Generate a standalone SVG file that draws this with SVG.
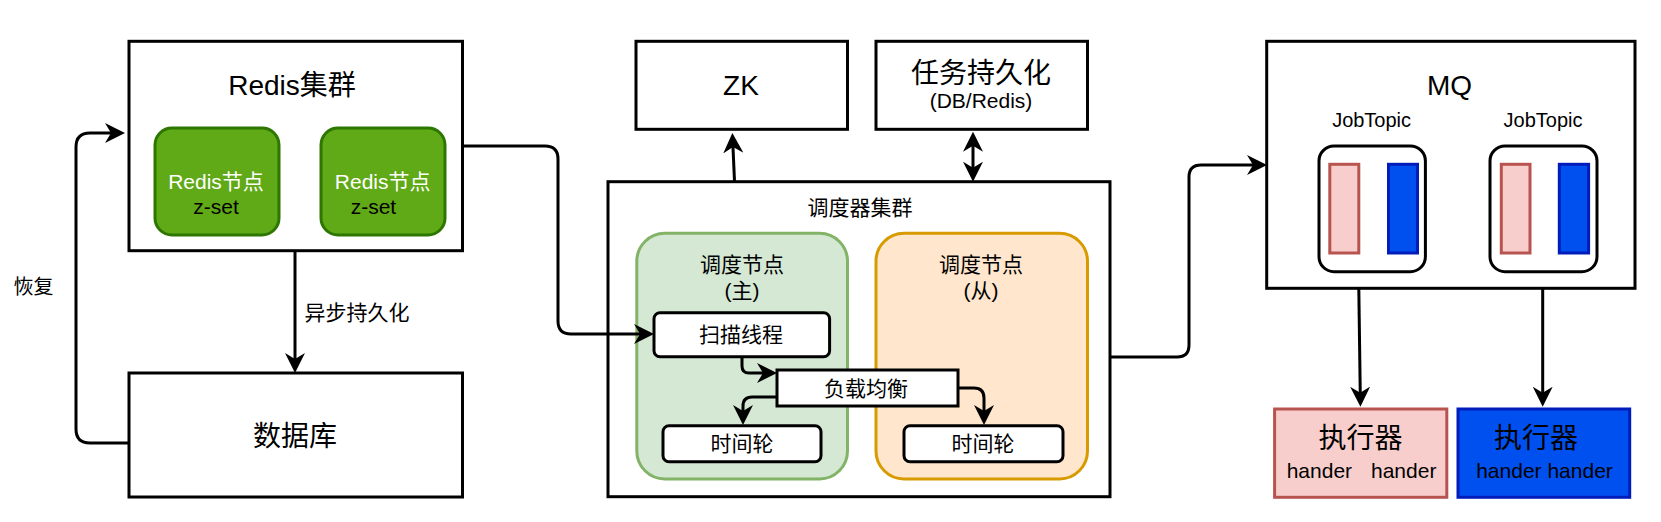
<svg xmlns="http://www.w3.org/2000/svg" width="1661" height="522" viewBox="0 0 1661 522">
<style>
text{font-family:"Liberation Sans","Noto Sans CJK SC",sans-serif;fill:#000;}
.box{fill:#fff;stroke:#000;stroke-width:3;}
.c{text-anchor:middle;}
.f28{font-size:28px;}
.f21{font-size:21px;}
.f20{font-size:20px;}
.edge{fill:none;stroke:#000;stroke-width:3;}
.pink{fill:#f8cecc;stroke:#b85450;stroke-width:3;}
.blue{fill:#0050ef;stroke:#001DBC;stroke-width:3;}
.green{fill:#60a917;stroke:#2D7600;stroke-width:3;}
</style>
<defs>
<marker id="arr" markerUnits="userSpaceOnUse" viewBox="0 0 20 20" markerWidth="20" markerHeight="20" refX="10" refY="10" orient="auto-start-reverse">
<path d="M0,0 L20,10 L0,20 L6,10 Z" fill="#000"/>
</marker>
</defs>

<g id="redis-cluster">
<rect class="box" x="129" y="41.3" width="333.5" height="209.4"/>
<text class="c f28" x="292" y="95">Redis集群</text>
</g>
<g id="redis-node-1">
<rect class="green" x="155" y="128" width="124" height="107" rx="17"/>
<text class="c f21" x="216" y="189" style="fill:#fff">Redis节点</text>
<text class="c f21" x="216" y="214">z-set</text>
</g>
<g id="redis-node-2">
<rect class="green" x="321" y="128" width="124" height="107" rx="17"/>
<text class="c f21" x="382.7" y="189" style="fill:#fff">Redis节点</text>
<text class="c f21" x="373.4" y="214">z-set</text>
</g>

<g id="database">
<rect class="box" x="129" y="373" width="333.5" height="124"/>
<text class="c f28" x="295" y="446">数据库</text>
</g>

<g id="zk">
<rect class="box" x="636" y="41.3" width="211.5" height="88"/>
<text class="c f28" x="741" y="95">ZK</text>
</g>

<g id="task-persist">
<rect class="box" x="876" y="41.3" width="211.5" height="88"/>
<text class="c f28" x="981" y="83">任务持久化</text>
<text class="c f21" x="981" y="108">(DB/Redis)</text>
</g>

<g id="scheduler-cluster">
<rect class="box" x="608" y="181.7" width="502" height="315"/>
<text class="c f21" x="860" y="215">调度器集群</text>
</g>

<g id="scheduler-master">
<rect x="636.8" y="233.3" width="210.7" height="245.7" rx="28" fill="#d5e8d4" stroke="#82b366" stroke-width="3"/>
<text class="c f21" x="742" y="272">调度节点</text>
<text class="c f21" x="742" y="298">(主)</text>
</g>

<g id="scheduler-slave">
<rect x="876" y="233.3" width="211.5" height="245.7" rx="28" fill="#ffe6cc" stroke="#d79b00" stroke-width="3"/>
<text class="c f21" x="981" y="272">调度节点</text>
<text class="c f21" x="981" y="298">(从)</text>
</g>

<g id="scan-thread">
<rect class="box" x="654" y="312.7" width="175.6" height="44" rx="6"/>
<text class="c f21" x="741" y="342">扫描线程</text>
</g>

<g id="load-balance">
<rect class="box" x="777" y="370" width="181" height="36"/>
<text class="c f21" x="866" y="396">负载均衡</text>
</g>

<g id="time-wheel-1">
<rect class="box" x="663" y="425.7" width="158" height="36" rx="6"/>
<text class="c f21" x="742" y="451">时间轮</text>
</g>

<g id="time-wheel-2">
<rect class="box" x="904" y="425.7" width="159" height="36" rx="6"/>
<text class="c f21" x="983" y="451">时间轮</text>
</g>

<g id="mq">
<rect class="box" x="1266.7" y="41.3" width="368.3" height="247"/>
<text class="c f28" x="1449.5" y="95">MQ</text>
</g>

<g id="topic-1">
<text class="c f20" x="1371.6" y="127">JobTopic</text>
<rect class="box" x="1319" y="146" width="106.4" height="125.7" rx="15"/>
<rect class="pink" x="1329.8" y="164.3" width="29" height="88.7"/>
<rect class="blue" x="1388.5" y="164.3" width="29" height="88.7"/>
</g>

<g id="topic-2">
<text class="c f20" x="1543" y="127">JobTopic</text>
<rect class="box" x="1490" y="146" width="107" height="125.7" rx="15"/>
<rect class="pink" x="1501.3" y="164.3" width="28.7" height="88.7"/>
<rect class="blue" x="1559.3" y="164.3" width="29.3" height="88.7"/>
</g>

<g id="executor-1">
<rect class="pink" x="1274.6" y="409" width="172.2" height="88.3"/>
<text class="c f28" x="1360.5" y="448">执行器</text>
<text class="f21" y="478"><tspan x="1286.7">hander</tspan><tspan x="1371">hander</tspan></text>
</g>

<g id="executor-2">
<rect class="blue" x="1458" y="409" width="171.7" height="88.3"/>
<text class="c f28" x="1536" y="448">执行器</text>
<text class="c f21" x="1544.5" y="478">hander hander</text>
</g>

<g id="connectors">
<path class="edge" d="M129,443 H90 Q76,443 76,429 V147 Q76,133 90,133 H115" marker-end="url(#arr)"/>
<path class="edge" d="M295,251 V363" marker-end="url(#arr)"/>
<path class="edge" d="M462,146 H545 Q558,146 558,159 V321 Q558,334 571,334 H644" marker-end="url(#arr)"/>
<path class="edge" d="M734.5,181 L732.8,143" marker-end="url(#arr)"/>
<path class="edge" d="M973,171.7 V141.7" marker-start="url(#arr)" marker-end="url(#arr)"/>
<path class="edge" d="M1110,357 H1177 Q1189,357 1189,345 V177 Q1189,165 1201,165 H1257" marker-end="url(#arr)"/>
<path class="edge" d="M742,357 V366 Q742,373 749,373 H767" marker-end="url(#arr)"/>
<path class="edge" d="M777,397 H752 Q743,397 743,406 V415" marker-end="url(#arr)"/>
<path class="edge" d="M958,388 H974 Q984,388 984,398 V415" marker-end="url(#arr)"/>
<path class="edge" d="M1358.8,288 L1360.3,396.7" marker-end="url(#arr)"/>
<path class="edge" d="M1542.7,288 V396.7" marker-end="url(#arr)"/>
<text class="f20" x="13.6" y="294">恢复</text>
<text class="f21" x="304.6" y="320">异步持久化</text>
</g>
</svg>
